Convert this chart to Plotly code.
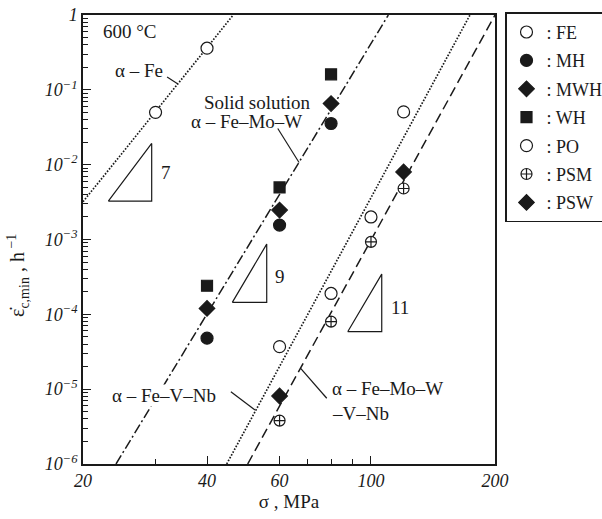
import plotly.graph_objects as go

# ---------------- data ----------------
fe_x = [30, 40]
fe_y = [0.05, 0.36]
mh_x = [40, 60, 80]
mh_y = [4.8e-5, 1.56e-3, 0.0355]
mwh_x = [40, 60, 80]
mwh_y = [1.2e-4, 2.47e-3, 0.0656]
wh_x = [40, 60, 80]
wh_y = [2.41e-4, 4.96e-3, 0.161]
po_x = [60, 80, 100, 120]
po_y = [3.7e-5, 1.9e-4, 2.0e-3, 0.0507]
psm_x = [60, 80, 100, 120]
psm_y = [3.8e-6, 8.0e-5, 9.3e-4, 4.8e-3]
psw_x = [60, 120]
psw_y = [8.1e-6, 8.0e-3]

# fitted lines (end points)
fe_line_x = [20, 46.3]
fe_line_y = [3.19e-3, 1.0]
ss_line_x = [24.05, 110.2]
ss_line_y = [1e-6, 1.0]
vnb_line_x = [44.65, 173.9]
vnb_line_y = [1e-6, 1.0]
all_line_x = [50.2, 200]
all_line_y = [1e-6, 1.0]

# slope triangles
tri7_x = [23.04, 29.36, 29.36, 23.04]
tri7_y = [3.26e-3, 3.26e-3, 0.0192, 3.26e-3]
tri9_x = [46.07, 55.84, 55.84, 46.07]
tri9_y = [1.445e-4, 1.445e-4, 8.68e-4, 1.445e-4]
tri11_x = [87.8, 106.2, 106.2, 87.8]
tri11_y = [5.86e-5, 5.86e-5, 3.45e-4, 5.86e-5]

# leader lines
lead_fe_x = [32.0, 34.0]
lead_fe_y = [0.148, 0.12]
lead_ss_x = [59.4, 66.9]
lead_ss_y = [0.0304, 0.0107]
lead_vnb_x = [45.7, 52.3]
lead_vnb_y = [9.26e-6, 5.27e-6]
lead_all_x = [78.1, 67.5]
lead_all_y = [7.56e-6, 1.9e-5]

x_tickvals = [20, 40, 60, 100, 200]
x_ticktext = ["20", "40", "60", "100", "200"]
x_minor = [30, 70, 80, 90]
y_tickvals = [1, 1e-1, 1e-2, 1e-3, 1e-4, 1e-5, 1e-6]
y_ticktext = ["1", "10<sup>−1</sup>", "10<sup>−2</sup>", "10<sup>−3</sup>",
              "10<sup>−4</sup>", "10<sup>−5</sup>", "10<sup>−6</sup>"]

FONT = "Liberation Serif"
INK = "#1a1a1a"

fig = go.Figure()

def line(x, y, dash, width=1.5):
    fig.add_trace(go.Scatter(x=x, y=y, mode="lines", showlegend=False,
                             hoverinfo="skip",
                             line=dict(color=INK, width=width, dash=dash)))

line(fe_line_x, fe_line_y, "1.6px,1.6px", 1.7)
line(ss_line_x, ss_line_y, "10px,3px,2px,3px")
line(vnb_line_x, vnb_line_y, "1.6px,1.6px", 1.7)
line(all_line_x, all_line_y, "10px,5px")
for tx, ty in [(tri7_x, tri7_y), (tri9_x, tri9_y), (tri11_x, tri11_y),
               (lead_fe_x, lead_fe_y), (lead_ss_x, lead_ss_y),
               (lead_vnb_x, lead_vnb_y), (lead_all_x, lead_all_y)]:
    line(tx, ty, "solid", 1.2)

def pts(x, y, name, symbol, size, fill):
    fig.add_trace(go.Scatter(
        x=x, y=y, mode="markers", name=name, legendgroup=name,
        marker=dict(symbol=symbol, size=size, color=fill,
                    line=dict(color=INK, width=1.2))))

pts(fe_x, fe_y, ": FE", "circle", 12, "white")
pts(mh_x, mh_y, ": MH", "circle", 12, INK)
pts(mwh_x, mwh_y, ": MWH", "diamond", 12, INK)
pts(wh_x, wh_y, ": WH", "square", 11, INK)
pts(po_x, po_y, ": PO", "circle", 12, "white")
pts(psm_x, psm_y, ": PSM", "circle-cross", 11, "white")
pts(psw_x, psw_y, ": PSW", "diamond", 12, INK)

L, R, T, B = 83, 495, 15, 464
W, H = 602, 519

def px(x):
    return (x - L) / (R - L)

def py(y):
    return (B - y) / (B - T)

def text(s, x, y, size=19, anchor="left", bg=None, angle=0):
    fig.add_annotation(text=s, x=px(x), y=py(y), xref="paper", yref="paper",
                       xanchor=anchor, yanchor="middle", showarrow=False,
                       textangle=angle,
                       font=dict(family=FONT, size=size, color=INK),
                       bgcolor=bg, borderpad=0)

text("600 °C", 102, 32)
text("α – Fe", 114, 70)
text("Solid solution", 203, 102)
text("α – Fe–Mo–W", 190, 121)
text("α – Fe–V–Nb", 111, 395, bg="white")
text("α – Fe–Mo–W", 331, 388)
text("–V–Nb", 331, 413)
text("7", 160, 172)
text("9", 274, 276)
text("11", 390, 307)
# y-axis title
text("ε\u0307<sub>c,min</sub> , h<sup> −1</sup>", 18, 276, size=20,
     anchor="center", angle=-90)

minor_y = [k * 10.0 ** e for e in range(-6, 0) for k in range(2, 10)]

fig.update_layout(
    width=W, height=H,
    margin=dict(l=L, r=W - R, t=T, b=H - B, autoexpand=False),
    plot_bgcolor="white", paper_bgcolor="white",
    font=dict(family=FONT, color=INK),
    showlegend=True,
    legend=dict(x=px(505), y=1.006, xanchor="left", yanchor="top",
                bordercolor=INK, borderwidth=1.5, bgcolor="white",
                font=dict(family=FONT, size=18, color=INK),
                itemwidth=30, tracegroupgap=2),
    xaxis=dict(type="log", range=[1.30103, 2.30103],
               tickvals=x_tickvals, ticktext=x_ticktext,
               ticks="inside", ticklen=8, tickwidth=1.2, tickcolor=INK,
               minor=dict(tickvals=x_minor, ticks="inside", ticklen=5,
                          tickwidth=1.2, tickcolor=INK),
               tickfont=dict(family=FONT, size=18, style="italic", color=INK),
               showgrid=False, zeroline=False,
               showline=True, linecolor=INK, linewidth=1.5, mirror=True,
               title=dict(text="σ , MPa",
                          font=dict(family=FONT, size=19, color=INK),
                          standoff=4)),
    yaxis=dict(type="log", range=[-6, 0],
               tickvals=y_tickvals, ticktext=y_ticktext,
               ticks="inside", ticklen=8, tickwidth=1.2, tickcolor=INK,
               minor=dict(tickvals=minor_y, ticks="inside", ticklen=5,
                          tickwidth=1, tickcolor=INK),
               tickfont=dict(family=FONT, size=18, style="italic", color=INK),
               showgrid=False, zeroline=False,
               showline=True, linecolor=INK, linewidth=1.5, mirror=True),
)

fig.write_html("out.html", config={"displayModeBar": False},
               post_script="document.body.style.margin='0';"
                           "document.body.style.padding='0';")
